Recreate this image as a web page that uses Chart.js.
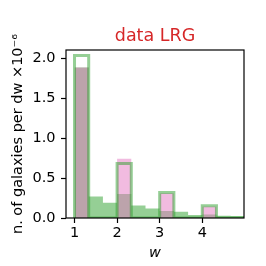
<!DOCTYPE html>
<html><head><meta charset="utf-8">
<script src="https://cdn.jsdelivr.net/npm/chart.js"></script>
<style>html,body{margin:0;padding:0;background:#fff;}#wrap{width:266px;height:266px;}</style>
</head><body><div id="wrap"><canvas id="c" width="266" height="266"></canvas></div>
<script>
// histogram bin edges (w)
const binEdges = [1.0, 1.333, 1.667, 2.0, 2.333, 2.667, 3.0, 3.333, 3.667, 4.0, 4.333, 4.667, 5.0];
// green filled histogram
const greenCounts = [1.88, 0.27, 0.19, 0.30, 0.155, 0.12, 0.088, 0.077, 0.036, 0.045, 0.028, 0.025];
// pink filled histogram
const pinkCounts = [1.88, 0, 0, 0.74, 0, 0, 0.31, 0, 0, 0.145, 0, 0];
// green outline (step) histogram
const outlineCounts = [2.03, 0, 0, 0.68, 0, 0, 0.32, 0, 0, 0.152, 0, 0];
const xTicks = [1, 2, 3, 4];
const yTicks = [0, 0.5, 1.0, 1.5, 2.0];
const titleText = 'data LRG';
const xLabel = 'w';
const yLabel = 'n. of galaxies per dw \u00d710\u207b\u2076';

const FONT = '"DejaVu Sans", sans-serif';

function stepPoints(edges, vals) {
  const pts = [{x: edges[0], y: 0}];
  for (let i = 0; i < vals.length; i++) {
    pts.push({x: edges[i], y: vals[i]});
    pts.push({x: edges[i + 1], y: vals[i]});
  }
  pts.push({x: edges[edges.length - 1], y: 0});
  return pts;
}

const framePlugin = {
  id: 'frame',
  afterDatasetsDraw(chart) {
    const {ctx, chartArea: a} = chart;
    ctx.save();
    ctx.strokeStyle = '#000';
    ctx.lineWidth = 1.2;
    ctx.strokeRect(a.left, a.top, a.right - a.left, a.bottom - a.top);
    ctx.restore();
  }
};
const titlePlugin = {
  id: 'ttl',
  afterDraw(chart) {
    const {ctx, chartArea: a} = chart;
    ctx.save();
    ctx.font = '17.5px ' + FONT;
    ctx.fillStyle = '#d62728';
    ctx.textAlign = 'center';
    ctx.textBaseline = 'alphabetic';
    ctx.fillText(titleText, (a.left + a.right) / 2, 40.7);
    ctx.restore();
  }
};

new Chart(document.getElementById('c'), {
  type: 'line',
  data: {
    datasets: [
      {data: stepPoints(binEdges, outlineCounts), borderColor: 'rgba(44,160,44,0.5)', borderWidth: 3,
       borderJoinStyle: 'miter', fill: false, pointRadius: 0, tension: 0},
      {data: stepPoints(binEdges, pinkCounts), borderColor: 'rgba(0,0,0,0)', borderWidth: 0,
       backgroundColor: 'rgba(227,119,194,0.5)', fill: 'origin', pointRadius: 0, tension: 0},
      {data: stepPoints(binEdges, greenCounts), borderColor: 'rgba(0,0,0,0)', borderWidth: 0,
       backgroundColor: 'rgba(44,160,44,0.5)', fill: 'origin', pointRadius: 0, tension: 0}
    ]
  },
  options: {
    responsive: false, animation: false, devicePixelRatio: 1,
    layout: {padding: {left: 0, right: 22, top: 50, bottom: 0}},
    plugins: {legend: {display: false}, tooltip: {enabled: false}, title: {display: false}},
    scales: {
      x: {
        type: 'linear', min: 0.8, max: 4.98,
        afterBuildTicks: s => { s.ticks = xTicks.map(v => ({value: v})); },
        afterFit: s => { s.height = 48; },
        grid: {drawOnChartArea: false, drawTicks: true, tickLength: 5, tickColor: '#000', tickWidth: 1.2},
        border: {display: false},
        ticks: {color: '#000', font: {family: FONT, size: 14.5}, padding: 2, maxRotation: 0,
                callback: v => String(v)},
        title: {display: true, text: xLabel, color: '#000', font: {family: FONT, size: 14.5, style: 'italic'},
                padding: {top: 0, bottom: 4}}
      },
      y: {
        type: 'linear', min: 0, max: 2.1,
        afterBuildTicks: s => { s.ticks = yTicks.map(v => ({value: v})); },
        afterFit: s => { s.width = 66; },
        grid: {drawOnChartArea: false, drawTicks: true, tickLength: 5, tickColor: '#000', tickWidth: 1.2},
        border: {display: false},
        ticks: {color: '#000', font: {family: FONT, size: 14.5}, padding: 5.5,
                callback: v => Number(v).toFixed(1)},
        title: {display: true, text: yLabel, color: '#000', font: {family: FONT, size: 14.5},
                padding: {top: 10, bottom: 0}}
      }
    }
  },
  plugins: [framePlugin, titlePlugin]
});
</script></body></html>
